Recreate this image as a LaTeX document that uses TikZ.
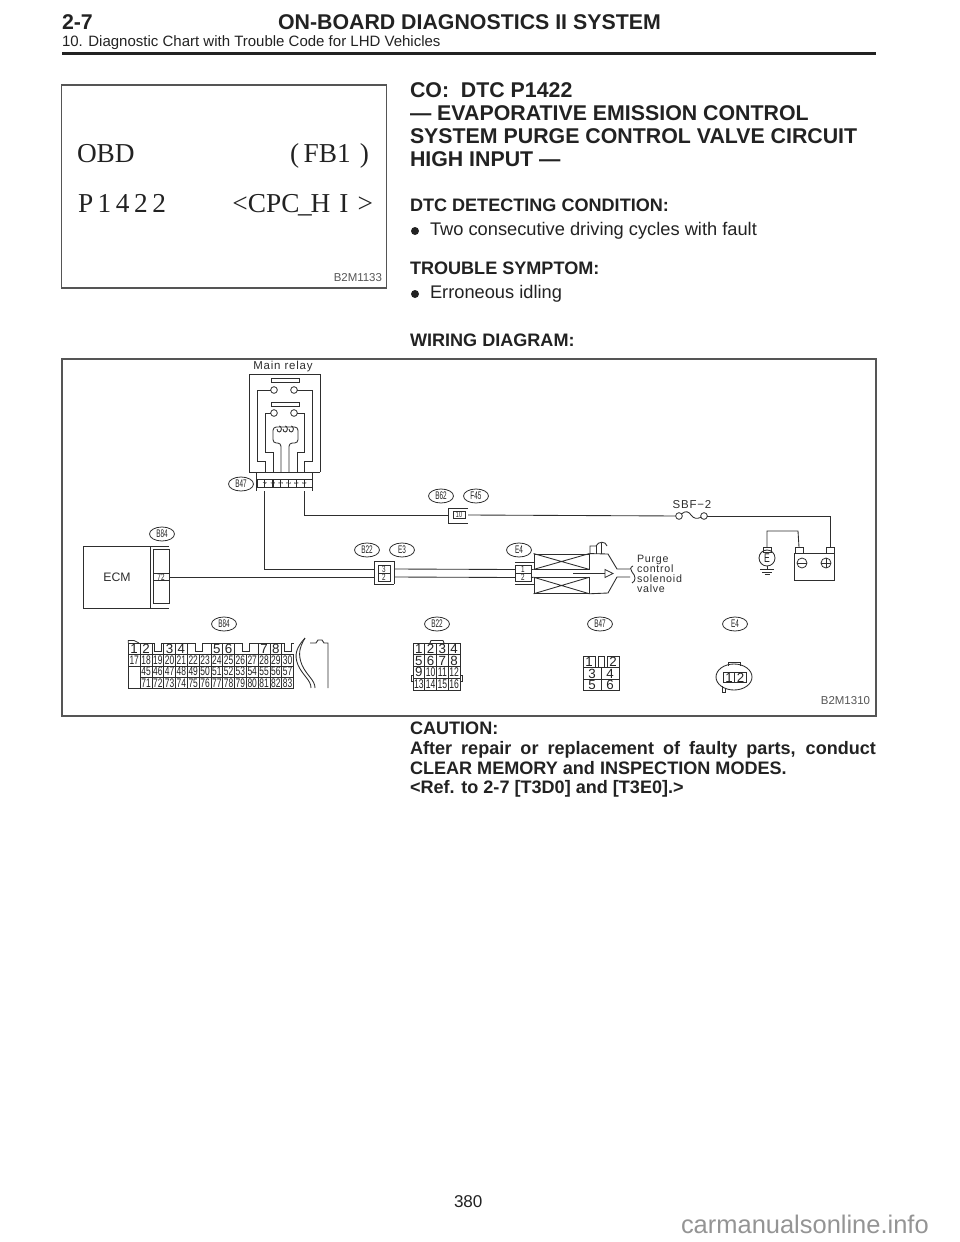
\documentclass[tikz,border=0pt]{standalone}
\usepackage{fontspec}
\usetikzlibrary{shapes.geometric}
\setmainfont{Liberation Sans}
\newfontfamily\serifF{Liberation Serif}
\newfontfamily\narrowF[FakeStretch=0.68]{Liberation Sans}
\newfontfamily\narrowerF[FakeStretch=0.58]{Liberation Sans}
\newfontfamily\spacedF[LetterSpace=7]{Liberation Sans}
\newcommand{\fs}[1]{\fontsize{#1}{#1}\selectfont}
\definecolor{ink}{HTML}{222222}
\definecolor{dia}{HTML}{2E2E2E}
\definecolor{frm}{HTML}{555555}
\tikzset{
  base/.style={inner sep=0pt,outer sep=0pt,text=ink},
  tl/.style={base,anchor=base west},
  tr/.style={base,anchor=base east},
  tb/.style={tl,font=\fs{16}\bfseries},
  th/.style={tl,font=\fs{13.55}\bfseries},
  tn/.style={tl,font=\fs{13.7}},
  ref/.style={tr,font=\fs{8.6},text=frm},
  wire/.style={draw=dia,line width=0.65pt},
  frame/.style={rectangle,draw=frm,line width=0.8pt,inner sep=0pt},
  oval/.style={ellipse,draw=dia,line width=0.6pt,minimum width=18.75pt,minimum height=10.5pt,inner sep=0pt,outer sep=0pt,font=\narrowerF\fs{8.3},text=ink},
  cell/.style={rectangle,draw=dia,line width=0.6pt,inner sep=0pt,outer sep=0pt,font=\narrowF\fs{8},text=ink},
  bcell/.style={cell,minimum width=8.85pt,minimum height=8.5pt,font=\narrowF\fs{9.3}},
  topcell/.style={cell,minimum width=8.85pt,minimum height=8.5pt,font=\fs{10}},
  qcell/.style={cell,minimum width=8.8pt,minimum height=8.8pt,font=\narrowF\fs{9.5}},
  dcell/.style={cell,minimum width=8.8pt,minimum height=8.8pt,font=\fs{10}},
  mcell/.style={cell,minimum width=13.5pt,minimum height=8.8pt,font=\fs{10}},
  pin/.style={circle,draw=dia,line width=0.6pt,minimum size=5pt,inner sep=0pt,outer sep=0pt},
  lab/.style={base,font=\spacedF\fs{8},text=dia},
  bul/.style={circle,fill=ink,minimum size=6pt,inner sep=0pt,outer sep=0pt},
}
\begin{document}
\begin{tikzpicture}[x=0.75pt,y=-0.75pt]
\useasboundingbox (0,0) rectangle (960,1242);
% header
\node[tl,font=\fs{16}\bfseries] (secno) at (62,29) {2-7};
\node[tl,font=\fs{16}\bfseries] (title) at (278,29) {ON-BOARD DIAGNOSTICS II SYSTEM};
\node[tl,font=\fs{11.25}] (subtitle) at (62,46) {10. Diagnostic Chart with Trouble Code for LHD Vehicles};
\draw[draw=ink,line width=2.4pt] (62,53.5) -- (876,53.5);
% screen box
\node[frame,minimum width=243.75pt,minimum height=152.25pt] (screen) at (224,186.5) {};
\node[tl,font=\serifF\fs{20.5}] (obd) at (77,162) {OBD};
\node[tr,font=\serifF\fs{20.5}] (fb) at (369,162) {(\,FB1\,\,)};
\node[tl,font=\serifF\fs{20.5}] (code) at (78,212) {P\,1\,4\,2\,2};
\node[tr,font=\serifF\fs{20.5}] (cpc) at (373,212) {<CPC\kern-1pt\_\kern-1pt H\,\,I\,\,>};
\node[ref] (r1) at (382,281) {B2M1133};
% headings
\node[tb] (h1) at (410,97) {CO:\ \ DTC P1422};
\node[tb] (h2) at (410,120) {— EVAPORATIVE EMISSION CONTROL};
\node[tb] (h3) at (410,143) {SYSTEM PURGE CONTROL VALVE CIRCUIT};
\node[tb] (h4) at (410,166) {HIGH INPUT —};
\node[th] (d1) at (410,211) {DTC DETECTING CONDITION:};
\node[bul] (b1) at (415,231) {};
\node[tn] (d2) at (430,235) {Two consecutive driving cycles with fault};
\node[th] (t1) at (410,274) {TROUBLE SYMPTOM:};
\node[bul] (b2) at (415,294) {};
\node[tn] (t2) at (430,298) {Erroneous idling};
\node[th] (w1) at (410,346) {WIRING DIAGRAM:};
% diagram frame
\node[frame,minimum width=610.5pt,minimum height=267.75pt] (frame) at (469,537.5) {};
\node[ref] (r2) at (870,704) {B2M1310};
% caution
\node[th] (c1) at (410,734) {CAUTION:};
\node[th] (c2) at (410,754) {\makebox[349.5pt][s]{After repair or replacement of faulty parts, conduct}};
\node[th] (c3) at (410,774) {CLEAR MEMORY and INSPECTION MODES.};
\node[th] (c4) at (410,793) {<Ref. to 2-7 [T3D0] and [T3E0].>};
\node[tl,font=\fs{12.8}] (pg) at (454,1207) {380};
\node[tl,font=\fs{19.1},text=black!42] (wm) at (681,1233) {carmanualsonline.info};
% ---- main relay
\node[lab,font=\spacedF\fs{8.6}] (mr) at (283,367) {Main relay};
\draw[wire] (249,472) -- (249,374) -- (320,374) -- (320,472);
\draw[wire] (249,472) -- (320,472);
\draw[wire] (271,378) rectangle (299,382);
\draw[wire] (271,402) rectangle (299,406);
\node[pin] (s1) at (274,390) {};
\node[pin] (s2) at (294,390) {};
\node[pin] (s3) at (274,413) {};
\node[pin] (s4) at (294,413) {};
\draw[wire] (s1) -- (257,390) -- (257,461) -- (265,461) -- (265,472);
\draw[wire] (s2) -- (312,390) -- (312,461) -- (304,461) -- (304,472);
\draw[wire] (s3) -- (265,413) -- (265,452) -- (273,452) -- (273,472);
\draw[wire] (s4) -- (304,413) -- (304,452) -- (297,452) -- (297,472);
\draw[wire,rounded corners=2.5pt] (281,472) -- (281,443) -- (273,443) -- (273,427) -- (298,427) -- (298,443) -- (289,443) -- (289,472);
\draw[wire] (277,429) arc[start angle=180,end angle=-90,x radius=2.2,y radius=3];
\draw[wire] (283,429) arc[start angle=180,end angle=-90,x radius=2.2,y radius=3];
\draw[wire] (289,429) arc[start angle=180,end angle=-90,x radius=2.2,y radius=3];
% B47 inline connector
\draw[wire] (256,472) -- (256,491);
\draw[wire] (312,472) -- (312,491);
\foreach \n/\d [count=\i from 0] in {a/4,b/1,c/3,d/2,e/5,f/6}{
  \node[cell,minimum width=5.85pt,minimum height=12pt,font=\narrowF\fs{4.5},rotate=90] (k\n) at (265+\i*7.85,483) {\d};
}
\node[oval] (ob47) at (241,484) {B47};
\coordinate (pinA) at (264,491);
\coordinate (pinB) at (304,491);
% B62 / F45 connector
\node[oval] (ob62) at (441,496) {B62};
\node[oval] (of45) at (476,496) {F45};
\node[cell,minimum width=9pt,minimum height=5.4pt,font=\narrowF\fs{6}] (c10) at (459,515) {10};
\coordinate (h10l) at (448,515);
\coordinate (h10r) at (468,515);
\draw[wire] (468,508) -- (448,508) -- (448,523) -- (468,523);
\draw[wire] (pinB) |- (h10l);
% fuse
\node[lab,font=\spacedF\fs{8.6}] (sbf) at (692,505) {SBF−2};
\node[pin] (fL) at (679,516) {};
\node[pin] (fR) at (704,516) {};
\draw[wire] (h10r) -- (fL);
\draw[wire] (fL) .. controls (686,510) and (689,512) .. (691,515) .. controls (694,519) and (697,519) .. (fR);
% battery
\node[rectangle,draw=dia,line width=0.65pt,minimum width=30pt,minimum height=20.25pt,inner sep=0pt] (bat) at (814,566.5) {};
\node[rectangle,draw=dia,line width=0.65pt,minimum width=6pt,minimum height=4.5pt,inner sep=0pt,anchor=north] (tm) at (799,547) {};
\node[rectangle,draw=dia,line width=0.65pt,minimum width=6pt,minimum height=4.5pt,inner sep=0pt,anchor=north] (tp) at (830.5,547) {};
\node[circle,draw=dia,line width=0.6pt,minimum size=7.5pt,inner sep=0pt] (bm) at (802,563) {};
\node[circle,draw=dia,line width=0.6pt,minimum size=7.5pt,inner sep=0pt] (bp) at (826,563) {};
\draw[wire] (bm.west) -- (bm.east);
\draw[wire] (bp.west) -- (bp.east) (bp.north) -- (bp.south);
\draw[wire] (fR) -| (tp.north);
% ground E
\node[circle,draw=dia,line width=0.65pt,minimum size=12pt,inner sep=0pt,font=\narrowF\fs{9.5},text=ink] (gnd) at (767,558) {E};
\node[rectangle,draw=dia,line width=0.65pt,minimum width=6pt,minimum height=3.6pt,inner sep=0pt,anchor=north] (gt) at (767,547) {};
\draw[wire] (gt.north) |- (798,531) -- (tm.north);
\draw[wire] (gnd.south) -- (767,569);
\draw[wire] (760,569) -- (774,569) (762,572) -- (772,572) (764.5,574.5) -- (769.5,574.5);
% ECM
\draw[wire] (169,546) -- (83,546) -- (83,608) -- (169,608);
\draw[wire] (150,546) -- (150,608);
\node[base,font=\fs{9.2},text=dia] (ecm) at (117,577) {ECM};
\draw[wire] (153,549) rectangle (169,603);
\node[cell,minimum width=12pt,minimum height=5.6pt,font=\narrowF\fs{7}] (p72) at (161,577) {72};
\node[oval] (ob84) at (162,534) {B84};
% B22 / E3 joint
\node[oval] (ob22) at (367,550) {B22};
\node[oval] (oe3) at (402,550) {E3};
\draw[wire] (394,561) -- (374,561) -- (374,584) -- (394,584);
\draw[wire] (394,561) -- (394,584);
\node[cell,minimum width=9pt,minimum height=6pt,font=\narrowF\fs{7}] (c3) at (384,569) {3};
\node[cell,minimum width=9pt,minimum height=6pt,font=\narrowF\fs{7}] (c2) at (384,577) {2};
\coordinate (jl3) at (374,569);
\coordinate (jr3) at (394,569);
\coordinate (jl2) at (374,577);
\coordinate (jr2) at (394,577);
\draw[wire] (pinA) |- (jl3);
\draw[wire] (p72) -- (jl2);
% E4 joint and valve
\node[oval] (oe4) at (519,550) {E4};
\node[cell,minimum width=12pt,minimum height=6pt,font=\narrowF\fs{7}] (e1) at (523,569.5) {1};
\node[cell,minimum width=12pt,minimum height=6pt,font=\narrowF\fs{7}] (e2) at (523,577.5) {2};
\draw[wire] (jr3) -- (e1.west);
\draw[wire] (jr2) -- (e2.west);
\draw[wire] (515,562) -- (534,562) (515,584) -- (534,584);
\node[rectangle,draw=dia,line width=0.65pt,minimum width=41.25pt,minimum height=11.25pt,inner sep=0pt] (cu) at (561.5,561.5) {};
\node[rectangle,draw=dia,line width=0.65pt,minimum width=41.25pt,minimum height=11.75pt,inner sep=0pt] (cl) at (561.5,585.5) {};
\draw[wire] (cu.north west) -- (cu.south east) (cu.south west) -- (cu.north east);
\draw[wire] (cl.north west) -- (cl.south east) (cl.south west) -- (cl.north east);
\draw[wire] (e1.east) -- (cu.south west);
\draw[wire] (e2.east) -- (cl.north west);
\draw[wire] (573,573) -- (605,573);
\draw[wire] (605,569.5) -- (605,577.5) -- (613,573.5) -- cycle;
\draw[wire] (cu.north east) -- (608,554) -- (617,569) -- (630,569);
\draw[wire] (cl.south east) -- (608,593) -- (617,577) -- (630,577);
\draw[wire] (590,554) -- (590,546) -- (596,546) .. controls (598,541) and (606,541) .. (607,546);
\draw[wire] (596,546) -- (596,554) (601,543) -- (601,554);
\draw[wire] (633,566) .. controls (630,567) and (630,570) .. (632,572) .. controls (636,576) and (636,581) .. (632,583);
\node[lab,anchor=base west] (v1) at (637,562) {Purge};
\node[lab,anchor=base west] (v2) at (637,572) {control};
\node[lab,anchor=base west] (v3) at (637,582) {solenoid};
\node[lab,anchor=base west] (v4) at (637,592) {valve};
% ---- B84 connector
\node[oval] (ob84b) at (224,624) {B84};
\foreach \n/\i in {1/0,2/1,3/3,4/4,5/7,6/8,7/11,8/12}{
  \node[topcell] (ba\n) at ({134.2+\i*11.8},649) {\n};
}
\foreach \n [count=\i from 0] in {17,18,19,20,21,22,23,24,25,26,27,28,29,30}{
  \node[bcell] (bb\n) at ({134.2+\i*11.8},660.3) {\n};
}
\foreach \n [count=\i from 1] in {45,46,47,48,49,50,51,52,53,54,55,56,57}{
  \node[bcell] (bc\n) at ({134.2+\i*11.8},671.6) {\n};
}
\foreach \n [count=\i from 1] in {71,72,73,74,75,76,77,78,79,80,81,82,83}{
  \node[bcell] (bd\n) at ({134.2+\i*11.8},682.9) {\n};
}
\draw[wire] (128.3,666) -- (128.3,688.5) -- (140,688.5);
\draw[wire] (128.3,643) -- (128.3,640.5) -- (134,640.5) -- (139,643);
% notches
\foreach \a/\b in {151.9/163.7,187.3/210.9,234.5/258.1,281.7/293.5}{
  \draw[wire] (\a,643) -- ({(\a+\b)/2-3.5},643) -- ({(\a+\b)/2-3.5},651) -- ({(\a+\b)/2+3.5},651) -- ({(\a+\b)/2+3.5},643) -- (\b,643);
}
% B84 housing
\draw[wire] (305,638) .. controls (296,648) and (294,655) .. (298,665) .. controls (303,676) and (311,680) .. (311,688);
\draw[wire] (305,638) .. controls (299,648) and (298,655) .. (302,665) .. controls (307,676) and (315,680) .. (315,688);
\draw[wire] (310,643) -- (316,643) -- (318,640) -- (322,640) -- (324,643) -- (328,643) -- (328,688);
% B22 connector
\node[oval] (ob22b) at (437,624) {B22};
\foreach \n [count=\i from 0] in {1,2,...,16}{
  \pgfmathtruncatemacro{\cx}{mod(\i,4)}
  \pgfmathtruncatemacro{\cy}{int(\i/4)}
  \ifnum\n<10
    \node[dcell] (q\n) at ({418.9+\cx*11.75},{648.9+\cy*11.75}) {\n};
  \else
    \node[qcell] (q\n) at ({418.9+\cx*11.75},{648.9+\cy*11.75}) {\n};
  \fi
}
\draw[wire] (430,643) -- (431,640.5) -- (443,640.5) -- (444,643);
\draw[wire] (413,675) -- (411,675) -- (411,681) -- (413,681);
\draw[wire] (460,675) -- (462.5,675) -- (462.5,681) -- (460,681);
% B47 connector
\node[oval] (ob47b) at (600,624) {B47};
\node[dcell,minimum width=9pt] (m1) at (589,662) {1};
\node[cell,minimum width=4.5pt,minimum height=8.8pt] (m0) at (601,662) {};
\node[dcell,minimum width=9pt] (m2) at (613,662) {2};
\node[mcell] (m3) at (592,673.5) {3};
\node[mcell] (m4) at (610,673.5) {4};
\node[mcell] (m5) at (592,685) {5};
\node[mcell] (m6) at (610,685) {6};
% E4 connector
\node[oval] (oe4b) at (735,624) {E4};
\node[ellipse,draw=dia,line width=0.65pt,minimum width=27pt,minimum height=19.5pt,inner sep=0pt] (eo) at (734,677) {};
\node[cell,minimum width=8.6pt,minimum height=8pt,font=\fs{10}] (ee1) at (729,677.5) {1};
\node[cell,minimum width=8.6pt,minimum height=8pt,font=\fs{10}] (ee2) at (740.5,677.5) {2};
\draw[wire] (728,666) -- (728,662) -- (740,662) -- (740,666);
\draw[wire] (722,686) -- (722,692) -- (725,692) -- (725,688);
\end{tikzpicture}
\end{document}
